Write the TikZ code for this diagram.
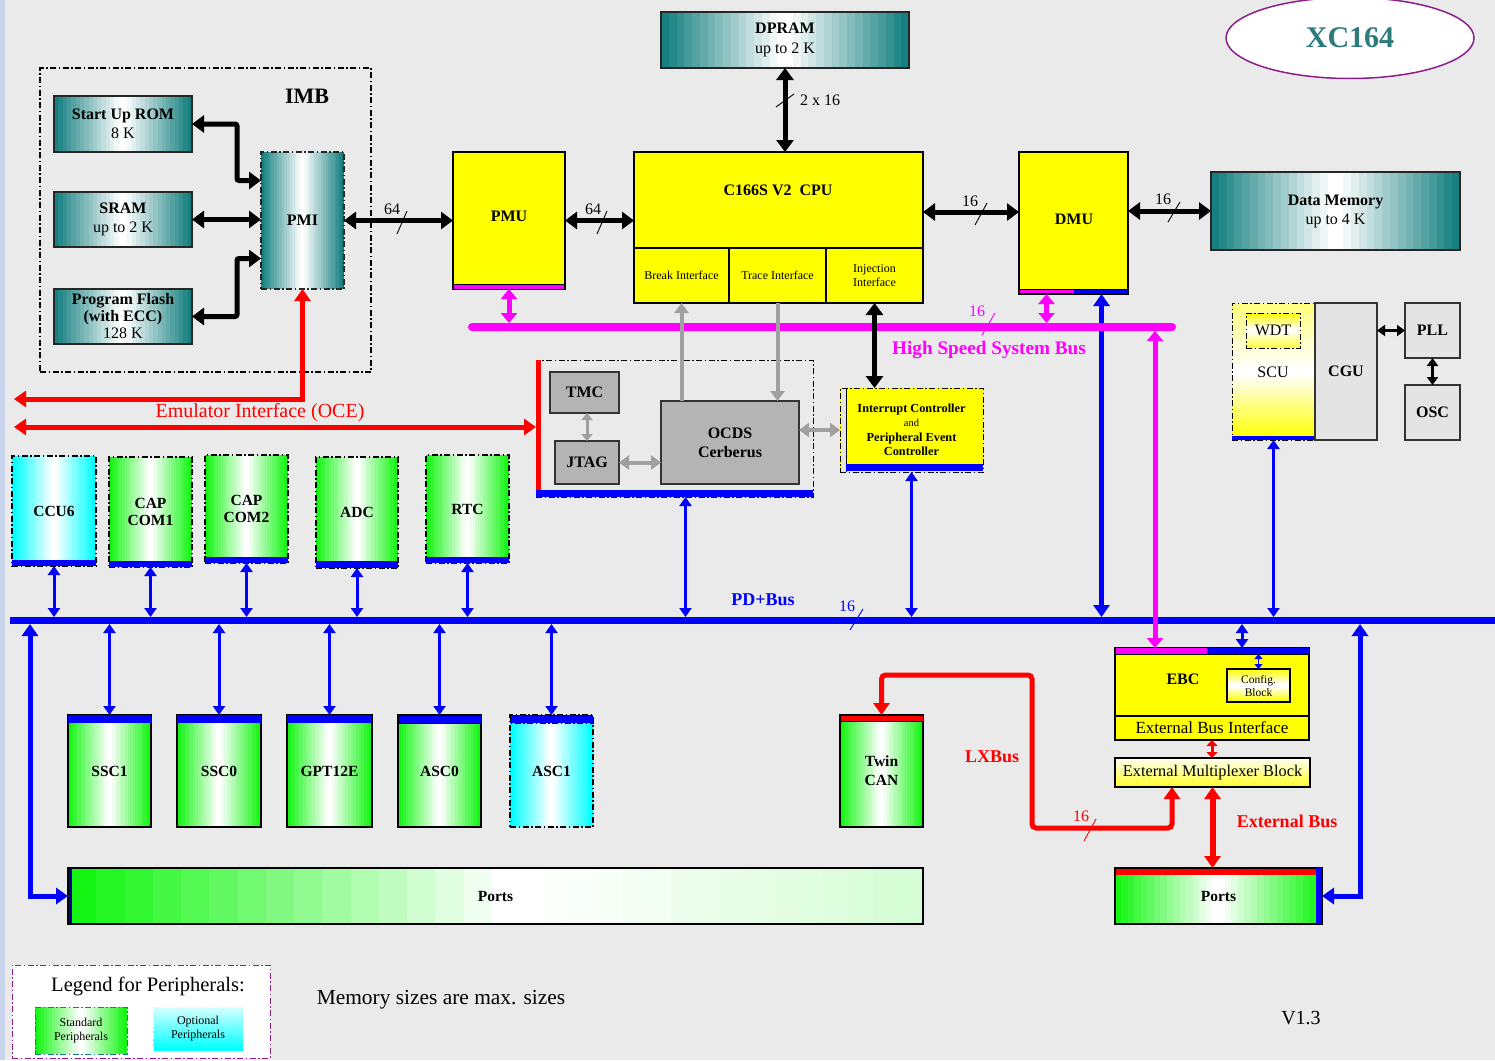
\documentclass[tikz,border=0pt]{standalone}
\usepackage{fontspec}
\setmainfont{Liberation Serif}
\usetikzlibrary{arrows.meta,shapes.geometric}
\definecolor{bgc}{RGB}{234,234,234}
\definecolor{edgec}{RGB}{200,212,236}
\definecolor{tealD}{RGB}{22,128,128}
\definecolor{tealT}{RGB}{46,123,123}
\definecolor{grn}{RGB}{20,245,20}
\definecolor{cyn}{RGB}{0,255,255}
\definecolor{ylw}{RGB}{255,255,0}
\definecolor{mgn}{RGB}{255,0,255}
\definecolor{gboxc}{RGB}{180,180,180}
\definecolor{garr}{RGB}{160,160,160}
\definecolor{lboxc}{RGB}{228,228,228}
\definecolor{purp}{RGB}{140,30,140}
\newcommand\placebox[7]{%
  \pgfmathsetmacro\pbcx{(#2+#4)/2}%
  \pgfmathsetmacro\pbcy{(#3+#5)/2}%
  \pgfmathsetmacro\pbw{#4-#2}%
  \pgfmathsetmacro\pbh{#5-#3}%
  \node[#6,minimum width=\pbw pt,minimum height=\pbh pt,inner sep=0pt,outer sep=0pt,align=center] (#1) at (\pbcx,\pbcy) {#7};}
% horizontal gradient: x1,y1,x2,y2,left colour,right colour
\newcommand\hgrad[6]{%
  \foreach \gi in {0,...,15}{%
    \pgfmathsetmacro\gxa{#1+(#3-#1)*\gi/16}%
    \pgfmathsetmacro\gxb{#1+(#3-#1)*(\gi+1)/16+0.4}%
    \pgfmathsetmacro\gp{100-\gi*100/15}%
    \fill[#5!\gp!#6] (\gxa,#2) rectangle (\gxb,#4);}}
% vertical gradient: x1,y1(top),x2,y2(bottom),top colour,bottom colour
\newcommand\vgrad[6]{%
  \foreach \gi in {0,...,15}{%
    \pgfmathsetmacro\gya{#2+(#4-#2)*\gi/16}%
    \pgfmathsetmacro\gyb{#2+(#4-#2)*(\gi+1)/16+0.4}%
    \pgfmathsetmacro\gp{100-\gi*100/15}%
    \fill[#5!\gp!#6] (#1,\gya) rectangle (#3,\gyb);}}
% symmetric: edge colour -> white -> edge colour
\newcommand\symgrad[5]{%
  \pgfmathsetmacro\sgm{(#1+#3)/2}%
  \hgrad{#1}{#2}{\sgm}{#4}{#5}{white}%
  \hgrad{\sgm}{#2}{#3}{#4}{white}{#5}}
\newcommand\symvgrad[6]{% x1,y1,x2,y2,top,bottom (white in middle)
  \pgfmathsetmacro\sgv{(#2+#4)/2}%
  \vgrad{#1}{#2}{#3}{\sgv}{#5}{white}%
  \vgrad{#1}{\sgv}{#3}{#4}{white}{#6}}
\newcommand\fzS{\fontsize{12}{14}\selectfont}
\newcommand\fzP{\fontsize{15.5}{17}\selectfont\bfseries}
\newcommand\fzL{\fontsize{18}{20}\selectfont\bfseries}
\begin{document}
\begin{tikzpicture}[x=1pt,y=-1pt,
  every node/.style={font=\fontsize{16}{19}\selectfont},
  ddot/.style={dash pattern=on 6pt off 2.5pt on 1.5pt off 2.5pt},
  tealbox/.style={draw=black!85,line width=1.2pt},
  ybox/.style={draw=black,line width=1.2pt,fill=ylw},
  grnbox/.style={draw=black,line width=1.2pt,font=\fzP},
  cynbox/.style={draw=black,line width=1.2pt,ddot,font=\fzP},
  graybox/.style={draw=black!80,line width=1.2pt,fill=gboxc},
  lgbox/.style={draw=black!80,line width=1.2pt,fill=lboxc},
  bk/.style={line width=5pt,>={Triangle[width=17pt,length=12pt]}},
  bks/.style={line width=3pt,>={Triangle[width=11pt,length=8pt]}},
  mg/.style={mgn,line width=5pt,>={Triangle[width=16pt,length=10pt]}},
  bl/.style={blue,line width=3pt,>={Triangle[width=12pt,length=9pt]}},
  blw/.style={blue,line width=5pt,>={Triangle[width=16pt,length=12pt]}},
  rd/.style={red,line width=5pt,>={Triangle[width=16pt,length=12pt]}},
  gr/.style={garr,line width=4pt,>={Triangle[width=14pt,length=10pt]}},
  slashln/.style={line width=0.9pt},
  ]
% background
\fill[bgc] (0,0) rectangle (1495,1060);
\fill[edgec] (0,0) rectangle (5,1060);
\useasboundingbox (0,0) rectangle (1495,1060);

% title
\node[ellipse,draw=purp,line width=1.5pt,fill=white,minimum width=248pt,minimum height=81pt,inner sep=0pt,
      font=\fontsize{30}{32}\selectfont\bfseries,text=tealT] (xc) at (1350,38) {XC164};

% IMB
\placebox{imb}{40}{68}{371}{372}{draw,ddot,line width=1.1pt}{}
\node[font=\fontsize{22}{24}\selectfont\bfseries] (imbl) at (307,96) {IMB};
\symgrad{54}{96}{192}{152}{tealD}
\placebox{rom}{54}{96}{192}{152}{tealbox}{\textbf{Start Up ROM}\\8 K}
\symgrad{54}{192}{192}{247}{tealD}
\placebox{sram}{54}{192}{192}{247}{tealbox}{\textbf{SRAM}\\up to 2 K}
\symgrad{54}{289}{192}{344}{tealD}
\placebox{flash}{54}{289}{192}{344}{tealbox,font=\fontsize{16}{17}\selectfont}{\textbf{Program Flash}\\\textbf{(with ECC)}\\128 K}
\symgrad{261}{152}{344}{289}{tealD}
\placebox{pmi}{261}{152}{344}{289}{tealbox,ddot}{\textbf{PMI}}

% PMU / CPU / DMU / memories
\placebox{pmu}{453}{152}{565}{289}{ybox}{}
\node[font=\fontsize{16}{17}\selectfont\bfseries] (pmul) at (509,216) {PMU};
\fill[mgn] (454,284) rectangle (564,288.5);
\draw[line width=1pt] (453,284) -- (565,284);
\placebox{cpu}{634}{152}{923}{303}{ybox}{}
\node[font=\fontsize{16}{17}\selectfont\bfseries] (cpul) at (778,190) {C166S V2~~CPU};
\placebox{brk}{634}{248}{729}{303}{draw,line width=1.2pt,font=\fzS}{Break Interface}
\placebox{trc}{729}{248}{826}{303}{draw,line width=1.2pt,font=\fzS}{Trace Interface}
\placebox{inj}{826}{248}{923}{303}{draw,line width=1.2pt,font=\fzS}{Injection\\Interface}
\symgrad{661}{12}{909}{68}{tealD}
\placebox{dpram}{661}{12}{909}{68}{tealbox,font=\fontsize{16}{20}\selectfont}{\textbf{DPRAM}\\up to 2 K}
\placebox{dmu}{1019}{152}{1128}{294}{ybox}{}
\node[font=\fontsize{16}{17}\selectfont\bfseries] (dmul) at (1074,219) {DMU};
\fill[mgn] (1020,289) rectangle (1074,293);
\fill[blue] (1074,289) rectangle (1127,293);
\draw[line width=1pt] (1019,289) -- (1128,289);
\symgrad{1211}{172}{1460}{250}{tealD}
\placebox{dmem}{1211}{172}{1460}{250}{tealbox}{\textbf{Data Memory}\\up to 4 K}

% OCDS group
\placebox{ocdsg}{536}{360}{813}{497}{draw,ddot,line width=1pt}{}
\fill[red] (536,360) rectangle (541,490);
\fill[blue] (536,490) rectangle (813,496.5);
\placebox{tmc}{550}{372}{619}{413}{graybox}{\textbf{TMC}}
\placebox{jtag}{555}{441}{619}{484}{graybox}{\textbf{JTAG}}
\placebox{ocds}{661}{401}{799}{484}{graybox}{\textbf{OCDS}\\\textbf{Cerberus}}

% Interrupt controller
\placebox{ic}{840}{388}{983}{472}{draw,ddot,line width=1pt,fill=ylw,font=\fontsize{12.3}{14.5}\selectfont\bfseries}{Interrupt Controller\\{\mdseries\fontsize{10.5}{14.5}\selectfont and}\\Peripheral Event\\Controller}
\fill[lboxc] (841,389) rectangle (846,471);
\draw[line width=0.8pt] (846,388) -- (846,472);
\fill[blue] (846,464) rectangle (983,471);

% SCU / CGU / PLL / OSC
\vgrad{1232}{303}{1315}{372}{ylw!50!white}{white}
\vgrad{1232}{372}{1315}{440}{white}{ylw}
\placebox{scu}{1232}{303}{1315}{440}{draw,ddot,line width=1pt}{}
\symvgrad{1246}{313}{1300}{348}{ylw}{ylw!75!white}
\placebox{wdt}{1246}{313}{1300}{348}{draw,ddot,line width=1pt}{WDT}
\node (scul) at (1273,372) {SCU};
\fill[blue] (1232,436) rectangle (1315,440);
\placebox{cgu}{1315}{303}{1377}{440}{lgbox}{\textbf{CGU}}
\placebox{pll}{1405}{303}{1460}{358}{lgbox}{\textbf{PLL}}
\placebox{osc}{1405}{385}{1460}{440}{lgbox}{\textbf{OSC}}

% top row peripherals
\symgrad{12}{456}{96}{566}{cyn}
\placebox{ccu6}{12}{456}{96}{566}{cynbox}{CCU6}
\fill[blue] (12,560) rectangle (96,566);
\symgrad{109}{457}{192}{567}{grn}
\placebox{cc1}{109}{457}{192}{567}{grnbox,ddot}{CAP\\COM1}
\fill[blue] (109,561) rectangle (192,567);
\symgrad{205}{455}{288}{563}{grn}
\placebox{cc2}{205}{455}{288}{563}{grnbox,ddot}{CAP\\COM2}
\fill[blue] (205,557) rectangle (288,563);
\symgrad{316}{457}{398}{568}{grn}
\placebox{adc}{316}{457}{398}{568}{grnbox,ddot}{ADC}
\fill[blue] (316,561) rectangle (398,568);
\symgrad{426}{455}{509}{563}{grn}
\placebox{rtc}{426}{455}{509}{563}{grnbox,ddot}{RTC}
\fill[blue] (426,557) rectangle (509,563);

% PD+ bus
\placebox{pdbus}{10}{617}{1495}{624}{fill=blue}{}
\node[text=blue,font=\fzL] (pdl) at (763,600) {PD+Bus};

% bottom row peripherals
\symgrad{68}{715}{151}{827}{grn}
\placebox{ssc1}{68}{715}{151}{827}{grnbox}{SSC1}
\fill[blue] (68,715) rectangle (151,723);
\symgrad{177}{715}{261}{827}{grn}
\placebox{ssc0}{177}{715}{261}{827}{grnbox}{SSC0}
\fill[blue] (177,715) rectangle (261,723);
\symgrad{287}{715}{372}{827}{grn}
\placebox{gpt}{287}{715}{372}{827}{grnbox}{GPT12E}
\fill[blue] (287,715) rectangle (372,723);
\symgrad{398}{715}{481}{827}{grn}
\placebox{asc0}{398}{715}{481}{827}{grnbox}{ASC0}
\filldraw[fill=blue,draw=black,line width=1pt] (398,715) rectangle (481,723);
\symgrad{510}{715}{593}{827}{cyn}
\placebox{asc1}{510}{715}{593}{827}{cynbox}{ASC1}
\filldraw[fill=blue,draw=black,ddot,line width=1pt] (510,715) rectangle (593,723);
\hgrad{68}{868}{520}{924}{grn}{white}
\hgrad{520}{868}{923}{924}{white}{grn!18!white}
\placebox{ports1}{68}{868}{923}{924}{draw,line width=1.2pt,font=\fzP}{Ports}
\fill[blue!55!black] (69,869) rectangle (72,923);

% right bottom
\symgrad{840}{715}{923}{827}{grn}
\placebox{tcan}{840}{715}{923}{827}{grnbox,font=\fontsize{15.5}{19}\selectfont\bfseries}{Twin\\CAN}
\filldraw[fill=red,draw=black,line width=1pt] (840,715) rectangle (923,721);
\placebox{ebc}{1115}{648}{1309}{740}{ybox}{}
\fill[mgn] (1116,648) rectangle (1207,654);
\fill[blue] (1207,648) rectangle (1309,654);
\draw[line width=1pt] (1115,654) -- (1309,654);
\node[font=\fontsize{16}{17}\selectfont\bfseries] (ebcl) at (1183,679) {EBC};
\symvgrad{1227}{669}{1290}{702}{ylw}{ylw}
\placebox{cfg}{1227}{669}{1290}{702}{draw,line width=1.2pt,font=\fontsize{11.5}{13}\selectfont}{Config.\\Block}
\placebox{ebi}{1115}{716}{1309}{740}{draw,line width=1.2pt,font=\fontsize{17}{19}\selectfont}{External Bus Interface}
\vgrad{1115}{758}{1310}{787}{ylw!8!white}{ylw!80!white}
\placebox{emb}{1115}{758}{1310}{787}{draw,line width=1.2pt,font=\fontsize{16.3}{19}\selectfont}{External Multiplexer Block}
\symgrad{1115}{868}{1322}{924}{grn}
\placebox{ports2}{1115}{868}{1322}{924}{draw,line width=1.2pt,font=\fzP}{Ports}
\fill[red] (1116,869) rectangle (1316,875);
\fill[blue] (1316,868) rectangle (1322,924);
\node[text=red,font=\fzL] (lxl) at (992,757) {LXBus};
\node[text=red,font=\fzL] (extl) at (1287,821) {External Bus};

% legend
\placebox{leg}{12}{965}{270}{1058}{draw=purp,ddot,line width=1pt,fill=white}{}
\node[font=\fontsize{20.5}{22}\selectfont] (legl) at (148,986) {Legend for Peripherals:};
\symgrad{35}{1007}{127}{1054}{grn}
\placebox{lstd}{35}{1007}{127}{1054}{draw=tealD,ddot,line width=1pt,font=\fzS}{Standard\\Peripherals}
\vgrad{153}{1007}{243}{1051}{cyn!18!white}{cyn}
\placebox{lopt}{153}{1007}{243}{1051}{draw=white,ddot,line width=1pt,font=\fzS}{Optional\\Peripherals}
\node[font=\fontsize{21.4}{23}\selectfont] (memn) at (441,1000) {Memory sizes are max. sizes};
\node[font=\fontsize{20}{22}\selectfont] (ver) at (1301,1018) {V1.3};

% ---------- connectors ----------
% DMU to PD bus (under the HS bus)
\coordinate (dmuB) at ([xshift=28pt]dmu.south);
\draw[blw,<->] (dmuB) -- (dmuB |- pdbus.north);

% High speed bus
\placebox{hsbus}{468}{323}{1176}{331}{fill=mgn,rounded corners=4pt}{}
\node[text=mgn,font=\fontsize{19.2}{21}\selectfont\bfseries] (hsl) at (989,350) {High Speed System Bus};

% IMB arrows
\coordinate (pmiA) at ([yshift=40pt]pmi.west);
\coordinate (pmiB) at ([yshift=-38pt]pmi.west);
\draw[bk,<->,rounded corners=2pt] (rom.east) -- ++(45,0) |- (pmiA);
\draw[bk,<->] (sram.east) -- (sram.east -| pmi.west);
\draw[bk,<->,rounded corners=2pt] (flash.east) -- ++(45,0) |- (pmiB);
\draw[bk,<->] (pmi.east) -- (pmu.west);
\draw[bk,<->] (pmu.east) -- (pmu.east -| cpu.west);
\coordinate (dmuA) at ([yshift=11pt]dmu.west);
\draw[bk,<->] (dmuA -| cpu.east) -- (dmuA);
\draw[bk,<->] (dmem.west -| dmu.east) -- (dmem.west);
\draw[bk,<->] (dpram.south) -- (dpram.south |- cpu.north);

% magenta
\draw[mg,<->] (pmu.south) -- (pmu.south |- hsbus.north);
\coordinate (dmuM) at ([xshift=-27pt]dmu.south);
\draw[mg,<->] (dmuM) -- (dmuM |- hsbus.north);
\coordinate (ebcM) at ([xshift=-57pt]ebc.north);
\draw[mg,<->] (ebcM |- hsbus.south) -- (ebcM);

% gray and black debug
\draw[gr,->] (ocds.north -| brk.south) -- (brk.south);
\draw[gr,->] (trc.south) -- (trc.south |- ocds.north);
\draw[bk,<->] (inj.south) -- (inj.south |- ic.north);
\draw[gr,<->,line width=3pt,>={Triangle[width=11pt,length=7pt]}] (jtag.north |- tmc.south) -- (jtag.north);
\draw[gr,<->] (jtag.east) -- (jtag.east -| ocds.west);
\draw[gr,<->] (ic.west -| ocds.east) -- (ic.west);

% emulator interface
\coordinate (emu1) at (14,399);
\coordinate (emu2) at (14,427);
\draw[rd,<->] (emu1) -- (emu1 -| pmi.south) -- (pmi.south);
\draw[rd,<->] (emu2) -- (emu2 -| ocdsg.west);
\node[text=red,font=\fontsize{20}{22}\selectfont] (emul) at (260,413) {Emulator Interface (OCE)};

% peripherals to PD bus
\foreach \n in {ccu6,cc1,cc2,adc,rtc}{\draw[bl,<->] (\n.south) -- (\n.south |- pdbus.north);}
\foreach \n in {ssc1,ssc0,gpt,asc0,asc1}{\draw[bl,<->] (pdbus.south -| \n.north) -- (\n.north);}
\coordinate (ocdsB) at ([xshift=11pt]ocdsg.south);
\draw[bl,<->] (ocdsB) -- (ocdsB |- pdbus.north);
\draw[bl,<->] (ic.south) -- (ic.south |- pdbus.north);
\draw[bl,<->] (scu.south) -- (scu.south |- pdbus.north);
\coordinate (ebcB) at ([xshift=30pt]ebc.north);
\draw[bl,<->] (pdbus.south -| ebcB) -- (ebcB);
\coordinate (ebcS) at ([yshift=-6pt]ebc.north);
\draw[blue,line width=1.6pt,<->,>={Triangle[width=8pt,length=5pt]}] (cfg.north |- ebcS) -- (cfg.north);
\coordinate (bl1) at (30,896);
\draw[blw,<->] (bl1 |- pdbus.south) -- (bl1) -- (bl1 -| ports1.west);
\coordinate (br1) at (1360,896);
\draw[blw,<->] (br1 |- pdbus.south) -- (br1) -- (br1 -| ports2.east);

% EBC red
\draw[red,line width=3pt,<->,>={Triangle[width=11pt,length=6pt]}] (ebi.south) -- (ebi.south |- emb.north);
\draw[rd,line width=6pt,<->] (emb.south) -- (emb.south |- ports2.north);
\coordinate (lxA) at (1032,675);
\coordinate (lxB) at (1172,828);
\draw[rd,<->,rounded corners=4pt] (tcan.north) |- (lxA) |- (lxB) -- (lxB |- emb.south);

% CGU / PLL / OSC
\draw[bks,<->] (pll.west) -- (pll.west -| cgu.east);
\draw[bks,<->] (pll.south) -- (osc.north);

% bus width marks
\draw[slashln] (397,234) -- (407,211); \node (w1) at (392,209) {64};
\draw[slashln] (597,234) -- (607,211); \node (w2) at (593,209) {64};
\draw[slashln] (776,107) -- (794,94);  \node (w3) at (820,100) {2 x 16};
\draw[slashln] (975,225) -- (987,203); \node (w4) at (970,201) {16};
\draw[slashln] (1168,222) -- (1180,202); \node (w5) at (1163,199) {16};
\draw[slashln,mgn] (982,335) -- (995,313); \node[text=mgn] (w6) at (977,311) {16};
\draw[slashln,blue] (850,630) -- (863,609); \node[text=blue] (w7) at (847,606) {16};
\draw[slashln,red] (1084,841) -- (1096,819); \node[text=red] (w8) at (1081,816) {16};
\end{tikzpicture}
\end{document}
